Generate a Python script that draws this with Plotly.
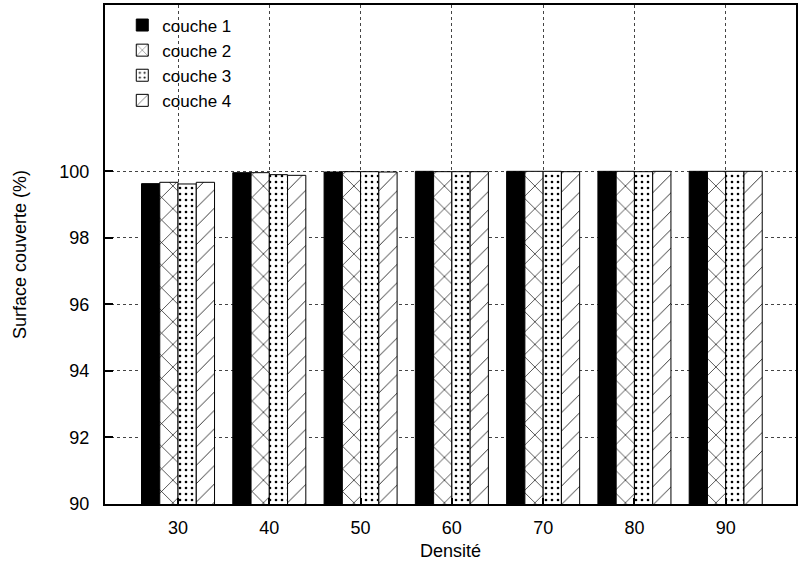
import plotly.graph_objects as go

densites = ["30", "40", "50", "60", "70", "80", "90"]
couche1 = [99.63, 99.96, 99.98, 100.0, 100.0, 100.0, 100.0]
couche2 = [99.67, 99.96, 99.99, 99.99, 100.0, 100.0, 100.0]
couche3 = [99.62, 99.90, 99.99, 99.99, 100.0, 99.99, 100.0]
couche4 = [99.67, 99.88, 99.98, 99.99, 99.99, 100.0, 100.0]
series_names = ["couche 1", "couche 2", "couche 3", "couche 4"]
y_ticks = [90, 92, 94, 96, 98, 100]

FONT = "Liberation Sans, Arial, Helvetica, sans-serif"
idx = list(range(len(densites)))

patterns = [
    dict(shape="", fillmode="replace"),
    dict(shape="x", size=16, solidity=0.08, fgcolor="black", bgcolor="white", fillmode="replace"),
    dict(shape=".", size=6, solidity=0.15, fgcolor="black", bgcolor="white", fillmode="replace"),
    dict(shape="/", size=13, solidity=0.06, fgcolor="black", bgcolor="white", fillmode="replace"),
]
colors = ["black", "white", "white", "white"]

fig = go.Figure()
for name, vals, pat, col in zip(series_names, [couche1, couche2, couche3, couche4], patterns, colors):
    fig.add_trace(go.Bar(
        x=idx, y=vals, name=name,
        marker=dict(color=col, pattern=pat, line=dict(color="black", width=1)),
    ))

fig.update_layout(
    width=798, height=568,
    margin=dict(l=105, r=0, t=5, b=64),
    paper_bgcolor="white", plot_bgcolor="white",
    barmode="group", bargap=0.2, bargroupgap=0.0,
    font=dict(family=FONT, size=18, color="black"),
    showlegend=True,
    legend=dict(x=0.025, y=0.995, xanchor="left", yanchor="top",
                bgcolor="rgba(0,0,0,0)", font=dict(size=17, family=FONT),
                tracegroupgap=0, itemwidth=30),
    xaxis=dict(
        range=[-0.8, 6.77], tickmode="array", tickvals=idx, ticktext=densites,
        showgrid=True, gridcolor="#444", griddash="dot", gridwidth=1,
        showline=True, linecolor="black", linewidth=2, mirror=True,
        ticks="inside", ticklen=6, tickcolor="black", tickwidth=2,
        ticklabelstandoff=6,
        title=dict(text="Densité", standoff=8, font=dict(size=18)),
        zeroline=False,
    ),
    yaxis=dict(
        range=[90, 105], tickmode="array", tickvals=y_ticks,
        showgrid=True, gridcolor="#444", griddash="dot", gridwidth=1,
        showline=True, linecolor="black", linewidth=2, mirror=True,
        ticks="inside", ticklen=8, tickcolor="black", tickwidth=2,
        ticklabelstandoff=10,
        title=dict(text="Surface couverte (%)", standoff=28, font=dict(size=18)),
        zeroline=False,
    ),
)

fig.write_html("out.html", config={"displayModeBar": False},
               post_script="document.body.style.margin='0';")
